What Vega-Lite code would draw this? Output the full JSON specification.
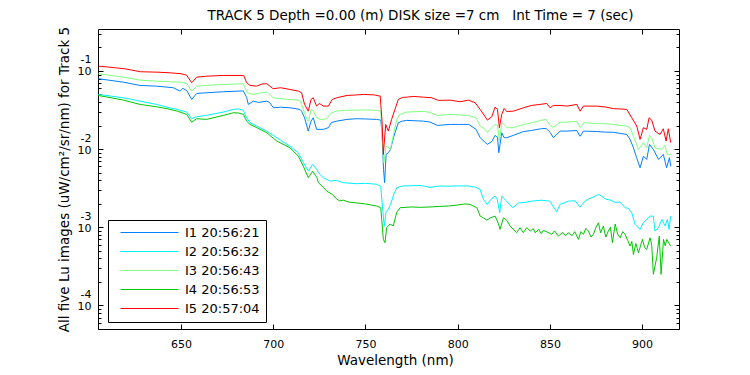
{
"$schema": "https://vega.github.io/schema/vega-lite/v6.json",
"width": 581, "height": 300,
"autosize": {"type": "none"},
"padding": {"left": 98, "top": 29, "right": 71, "bottom": 46},
"background": "white",
"title": {"text": "TRACK 5 Depth =0.00 (m) DISK size =7 cm \u00a0 Int Time = 7 (sec)", "font": "DejaVu Sans", "fontSize": 13.5, "fontWeight": "normal", "color": "black", "anchor": "middle", "frame": "group", "dx": 32, "baseline": "alphabetic", "offset": -7},
"config": {
  "view": {"stroke": "black", "strokeWidth": 1},
  "axis": {"domain": false, "grid": false, "tickColor": "black", "tickWidth": 1, "labelColor": "black", "titleColor": "black", "labelFont": "DejaVu Sans", "titleFont": "DejaVu Sans", "titleFontWeight": "normal", "labelFlush": false, "labelOverlap": false, "labelBound": false}
},
"datasets": {"spec": [
{"image":"I1 20:56:21","nm":605.2,"lu":0.0795},{"image":"I1 20:56:21","nm":618.7,"lu":0.0719},{"image":"I1 20:56:21","nm":627.8,"lu":0.0652},{"image":"I1 20:56:21","nm":636.8,"lu":0.0639},{"image":"I1 20:56:21","nm":645.8,"lu":0.061},{"image":"I1 20:56:21","nm":649.5,"lu":0.0552},{"image":"I1 20:56:21","nm":651,"lu":0.0598},{"image":"I1 20:56:21","nm":653.1,"lu":0.0563},{"image":"I1 20:56:21","nm":655.8,"lu":0.0432},{"image":"I1 20:56:21","nm":658.5,"lu":0.0516},{"image":"I1 20:56:21","nm":663.9,"lu":0.0526},{"image":"I1 20:56:21","nm":672.9,"lu":0.0542},{"image":"I1 20:56:21","nm":683.8,"lu":0.0555},{"image":"I1 20:56:21","nm":685.6,"lu":0.0458},{"image":"I1 20:56:21","nm":686.5,"lu":0.0373},{"image":"I1 20:56:21","nm":689.2,"lu":0.0411},{"image":"I1 20:56:21","nm":692,"lu":0.0395},{"image":"I1 20:56:21","nm":696.5,"lu":0.0411},{"image":"I1 20:56:21","nm":698,"lu":0.0395},{"image":"I1 20:56:21","nm":700.1,"lu":0.0338},{"image":"I1 20:56:21","nm":704,"lu":0.0344},{"image":"I1 20:56:21","nm":709.1,"lu":0.0338},{"image":"I1 20:56:21","nm":714.5,"lu":0.0322},{"image":"I1 20:56:21","nm":715.4,"lu":0.0306},{"image":"I1 20:56:21","nm":717,"lu":0.0252},{"image":"I1 20:56:21","nm":719,"lu":0.017},{"image":"I1 20:56:21","nm":720.5,"lu":0.0228},{"image":"I1 20:56:21","nm":721.7,"lu":0.0252},{"image":"I1 20:56:21","nm":723.5,"lu":0.0179},{"image":"I1 20:56:21","nm":725.4,"lu":0.0179},{"image":"I1 20:56:21","nm":727.2,"lu":0.0179},{"image":"I1 20:56:21","nm":729.9,"lu":0.0188},{"image":"I1 20:56:21","nm":731.5,"lu":0.0218},{"image":"I1 20:56:21","nm":734.4,"lu":0.0228},{"image":"I1 20:56:21","nm":740,"lu":0.024},{"image":"I1 20:56:21","nm":745.3,"lu":0.0245},{"image":"I1 20:56:21","nm":750,"lu":0.0243},{"image":"I1 20:56:21","nm":756.1,"lu":0.024},{"image":"I1 20:56:21","nm":758.3,"lu":0.0235},{"image":"I1 20:56:21","nm":759,"lu":0.0162},{"image":"I1 20:56:21","nm":759.8,"lu":0.0055},{"image":"I1 20:56:21","nm":760.4,"lu":0.00372},{"image":"I1 20:56:21","nm":761.2,"lu":0.00855},{"image":"I1 20:56:21","nm":762.4,"lu":0.00899},{"image":"I1 20:56:21","nm":763.6,"lu":0.0099},{"image":"I1 20:56:21","nm":765.2,"lu":0.014},{"image":"I1 20:56:21","nm":767.8,"lu":0.0217},{"image":"I1 20:56:21","nm":770,"lu":0.0228},{"image":"I1 20:56:21","nm":772.4,"lu":0.0233},{"image":"I1 20:56:21","nm":781.4,"lu":0.0228},{"image":"I1 20:56:21","nm":785,"lu":0.0222},{"image":"I1 20:56:21","nm":789,"lu":0.0201},{"image":"I1 20:56:21","nm":796,"lu":0.0207},{"image":"I1 20:56:21","nm":801,"lu":0.0207},{"image":"I1 20:56:21","nm":806,"lu":0.0207},{"image":"I1 20:56:21","nm":810,"lu":0.0179},{"image":"I1 20:56:21","nm":812.2,"lu":0.014},{"image":"I1 20:56:21","nm":814.9,"lu":0.0122},{"image":"I1 20:56:21","nm":816.1,"lu":0.0115},{"image":"I1 20:56:21","nm":818.5,"lu":0.0125},{"image":"I1 20:56:21","nm":820.3,"lu":0.015},{"image":"I1 20:56:21","nm":821.6,"lu":0.0142},{"image":"I1 20:56:21","nm":822.3,"lu":0.009},{"image":"I1 20:56:21","nm":823.9,"lu":0.0162},{"image":"I1 20:56:21","nm":825.2,"lu":0.014},{"image":"I1 20:56:21","nm":826.6,"lu":0.014},{"image":"I1 20:56:21","nm":830.2,"lu":0.015},{"image":"I1 20:56:21","nm":835.7,"lu":0.0168},{"image":"I1 20:56:21","nm":840,"lu":0.0173},{"image":"I1 20:56:21","nm":845,"lu":0.0182},{"image":"I1 20:56:21","nm":848,"lu":0.0184},{"image":"I1 20:56:21","nm":850.1,"lu":0.0164},{"image":"I1 20:56:21","nm":851.9,"lu":0.014},{"image":"I1 20:56:21","nm":855.5,"lu":0.017},{"image":"I1 20:56:21","nm":859.2,"lu":0.017},{"image":"I1 20:56:21","nm":864.6,"lu":0.0173},{"image":"I1 20:56:21","nm":866.4,"lu":0.0146},{"image":"I1 20:56:21","nm":868.2,"lu":0.017},{"image":"I1 20:56:21","nm":875.4,"lu":0.0168},{"image":"I1 20:56:21","nm":880,"lu":0.0165},{"image":"I1 20:56:21","nm":884.5,"lu":0.0164},{"image":"I1 20:56:21","nm":888,"lu":0.0159},{"image":"I1 20:56:21","nm":891.7,"lu":0.0154},{"image":"I1 20:56:21","nm":893.5,"lu":0.0133},{"image":"I1 20:56:21","nm":895.3,"lu":0.0104},{"image":"I1 20:56:21","nm":897,"lu":0.00783},{"image":"I1 20:56:21","nm":898.9,"lu":0.00578},{"image":"I1 20:56:21","nm":900.7,"lu":0.00814},{"image":"I1 20:56:21","nm":902.5,"lu":0.00738},{"image":"I1 20:56:21","nm":904,"lu":0.0115},{"image":"I1 20:56:21","nm":906.1,"lu":0.0099},{"image":"I1 20:56:21","nm":908.9,"lu":0.00738},{"image":"I1 20:56:21","nm":911.5,"lu":0.00855},{"image":"I1 20:56:21","nm":913.3,"lu":0.00578},{"image":"I1 20:56:21","nm":914.8,"lu":0.00776},{"image":"I1 20:56:21","nm":915.5,"lu":0.00602},
{"image":"I2 20:56:32","nm":605.2,"lu":0.0501},{"image":"I2 20:56:32","nm":618.7,"lu":0.0454},{"image":"I2 20:56:32","nm":627.8,"lu":0.0411},{"image":"I2 20:56:32","nm":636.8,"lu":0.0373},{"image":"I2 20:56:32","nm":643,"lu":0.0341},{"image":"I2 20:56:32","nm":648,"lu":0.0322},{"image":"I2 20:56:32","nm":653.1,"lu":0.0298},{"image":"I2 20:56:32","nm":655.8,"lu":0.0245},{"image":"I2 20:56:32","nm":658.5,"lu":0.026},{"image":"I2 20:56:32","nm":663.9,"lu":0.027},{"image":"I2 20:56:32","nm":672.9,"lu":0.0298},{"image":"I2 20:56:32","nm":678.4,"lu":0.0322},{"image":"I2 20:56:32","nm":681,"lu":0.0327},{"image":"I2 20:56:32","nm":683.8,"lu":0.0313},{"image":"I2 20:56:32","nm":685.6,"lu":0.0252},{"image":"I2 20:56:32","nm":687.4,"lu":0.0218},{"image":"I2 20:56:32","nm":691.1,"lu":0.0197},{"image":"I2 20:56:32","nm":696.5,"lu":0.017},{"image":"I2 20:56:32","nm":701.9,"lu":0.014},{"image":"I2 20:56:32","nm":709.1,"lu":0.0109},{"image":"I2 20:56:32","nm":713.6,"lu":0.00899},{"image":"I2 20:56:32","nm":716.3,"lu":0.00676},{"image":"I2 20:56:32","nm":719,"lu":0.00523},{"image":"I2 20:56:32","nm":721.4,"lu":0.00637},{"image":"I2 20:56:32","nm":723.6,"lu":0.0055},{"image":"I2 20:56:32","nm":724.5,"lu":0.00499},{"image":"I2 20:56:32","nm":727.2,"lu":0.00431},{"image":"I2 20:56:32","nm":730.8,"lu":0.0039},{"image":"I2 20:56:32","nm":734.4,"lu":0.00398},{"image":"I2 20:56:32","nm":738,"lu":0.00372},{"image":"I2 20:56:32","nm":745.3,"lu":0.00361},{"image":"I2 20:56:32","nm":750,"lu":0.00365},{"image":"I2 20:56:32","nm":756.1,"lu":0.00355},{"image":"I2 20:56:32","nm":758.3,"lu":0.00335},{"image":"I2 20:56:32","nm":759.5,"lu":0.00155},{"image":"I2 20:56:32","nm":760.2,"lu":0.00103},{"image":"I2 20:56:32","nm":761.2,"lu":0.0016},{"image":"I2 20:56:32","nm":762.4,"lu":0.00168},{"image":"I2 20:56:32","nm":763.6,"lu":0.00196},{"image":"I2 20:56:32","nm":765.4,"lu":0.00264},{"image":"I2 20:56:32","nm":767,"lu":0.00321},{"image":"I2 20:56:32","nm":770,"lu":0.00337},{"image":"I2 20:56:32","nm":780,"lu":0.00343},{"image":"I2 20:56:32","nm":785,"lu":0.00324},{"image":"I2 20:56:32","nm":790,"lu":0.00337},{"image":"I2 20:56:32","nm":795,"lu":0.00335},{"image":"I2 20:56:32","nm":800,"lu":0.00339},{"image":"I2 20:56:32","nm":806,"lu":0.00337},{"image":"I2 20:56:32","nm":810,"lu":0.00324},{"image":"I2 20:56:32","nm":812.2,"lu":0.00305},{"image":"I2 20:56:32","nm":814,"lu":0.00227},{"image":"I2 20:56:32","nm":816,"lu":0.00196},{"image":"I2 20:56:32","nm":818,"lu":0.00227},{"image":"I2 20:56:32","nm":820.3,"lu":0.00251},{"image":"I2 20:56:32","nm":821.5,"lu":0.00227},{"image":"I2 20:56:32","nm":822.8,"lu":0.00153},{"image":"I2 20:56:32","nm":823.9,"lu":0.00251},{"image":"I2 20:56:32","nm":826,"lu":0.00221},{"image":"I2 20:56:32","nm":830,"lu":0.00178},{"image":"I2 20:56:32","nm":833,"lu":0.00205},{"image":"I2 20:56:32","nm":836.5,"lu":0.00208},{"image":"I2 20:56:32","nm":840,"lu":0.00216},{"image":"I2 20:56:32","nm":845.6,"lu":0.00222},{"image":"I2 20:56:32","nm":850,"lu":0.00216},{"image":"I2 20:56:32","nm":853.7,"lu":0.00158},{"image":"I2 20:56:32","nm":855.5,"lu":0.00196},{"image":"I2 20:56:32","nm":860,"lu":0.00216},{"image":"I2 20:56:32","nm":863.7,"lu":0.00218},{"image":"I2 20:56:32","nm":866.4,"lu":0.00181},{"image":"I2 20:56:32","nm":869,"lu":0.00216},{"image":"I2 20:56:32","nm":870.9,"lu":0.0023},{"image":"I2 20:56:32","nm":874,"lu":0.00246},{"image":"I2 20:56:32","nm":876.3,"lu":0.00264},{"image":"I2 20:56:32","nm":878.1,"lu":0.00251},{"image":"I2 20:56:32","nm":880,"lu":0.0023},{"image":"I2 20:56:32","nm":883,"lu":0.00222},{"image":"I2 20:56:32","nm":885.4,"lu":0.00208},{"image":"I2 20:56:32","nm":888,"lu":0.0021},{"image":"I2 20:56:32","nm":890.8,"lu":0.00178},{"image":"I2 20:56:32","nm":892.5,"lu":0.00175},{"image":"I2 20:56:32","nm":894.4,"lu":0.00153},{"image":"I2 20:56:32","nm":896.2,"lu":0.00109},{"image":"I2 20:56:32","nm":898.9,"lu":0.00094},{"image":"I2 20:56:32","nm":900.7,"lu":0.00114},{"image":"I2 20:56:32","nm":904.3,"lu":0.00139},{"image":"I2 20:56:32","nm":906.1,"lu":0.00139},{"image":"I2 20:56:32","nm":907,"lu":0.000894},{"image":"I2 20:56:32","nm":908.9,"lu":0.000988},{"image":"I2 20:56:32","nm":910.7,"lu":0.00126},{"image":"I2 20:56:32","nm":912.5,"lu":0.00104},{"image":"I2 20:56:32","nm":913.7,"lu":0.00126},{"image":"I2 20:56:32","nm":914.6,"lu":0.00094},{"image":"I2 20:56:32","nm":915.5,"lu":0.00139},
{"image":"I3 20:56:43","nm":605.2,"lu":0.0921},{"image":"I3 20:56:43","nm":618.7,"lu":0.0833},{"image":"I3 20:56:43","nm":627.8,"lu":0.0763},{"image":"I3 20:56:43","nm":636.8,"lu":0.0741},{"image":"I3 20:56:43","nm":645.8,"lu":0.0723},{"image":"I3 20:56:43","nm":649.5,"lu":0.0719},{"image":"I3 20:56:43","nm":653.1,"lu":0.0692},{"image":"I3 20:56:43","nm":655.8,"lu":0.0552},{"image":"I3 20:56:43","nm":658.5,"lu":0.0639},{"image":"I3 20:56:43","nm":663.9,"lu":0.0653},{"image":"I3 20:56:43","nm":672.9,"lu":0.0672},{"image":"I3 20:56:43","nm":683.8,"lu":0.0686},{"image":"I3 20:56:43","nm":686,"lu":0.0526},{"image":"I3 20:56:43","nm":689,"lu":0.0501},{"image":"I3 20:56:43","nm":692,"lu":0.0516},{"image":"I3 20:56:43","nm":696.5,"lu":0.0536},{"image":"I3 20:56:43","nm":700.1,"lu":0.0454},{"image":"I3 20:56:43","nm":704,"lu":0.0441},{"image":"I3 20:56:43","nm":709.1,"lu":0.0432},{"image":"I3 20:56:43","nm":714.5,"lu":0.042},{"image":"I3 20:56:43","nm":715.4,"lu":0.0373},{"image":"I3 20:56:43","nm":717,"lu":0.0292},{"image":"I3 20:56:43","nm":718.3,"lu":0.024},{"image":"I3 20:56:43","nm":719.2,"lu":0.0226},{"image":"I3 20:56:43","nm":720.5,"lu":0.0322},{"image":"I3 20:56:43","nm":722,"lu":0.0304},{"image":"I3 20:56:43","nm":723.5,"lu":0.0252},{"image":"I3 20:56:43","nm":725.4,"lu":0.024},{"image":"I3 20:56:43","nm":727.2,"lu":0.024},{"image":"I3 20:56:43","nm":729,"lu":0.0245},{"image":"I3 20:56:43","nm":731.5,"lu":0.0292},{"image":"I3 20:56:43","nm":734.4,"lu":0.0306},{"image":"I3 20:56:43","nm":738,"lu":0.0313},{"image":"I3 20:56:43","nm":745.3,"lu":0.0315},{"image":"I3 20:56:43","nm":750,"lu":0.0317},{"image":"I3 20:56:43","nm":756.1,"lu":0.0313},{"image":"I3 20:56:43","nm":758.3,"lu":0.0306},{"image":"I3 20:56:43","nm":759,"lu":0.0146},{"image":"I3 20:56:43","nm":760,"lu":0.0067},{"image":"I3 20:56:43","nm":761.2,"lu":0.0109},{"image":"I3 20:56:43","nm":762.4,"lu":0.0105},{"image":"I3 20:56:43","nm":763.6,"lu":0.0099},{"image":"I3 20:56:43","nm":765.4,"lu":0.0162},{"image":"I3 20:56:43","nm":767,"lu":0.024},{"image":"I3 20:56:43","nm":768.5,"lu":0.0278},{"image":"I3 20:56:43","nm":772.4,"lu":0.0298},{"image":"I3 20:56:43","nm":781.4,"lu":0.0304},{"image":"I3 20:56:43","nm":785,"lu":0.0295},{"image":"I3 20:56:43","nm":789,"lu":0.027},{"image":"I3 20:56:43","nm":796,"lu":0.0278},{"image":"I3 20:56:43","nm":801,"lu":0.0274},{"image":"I3 20:56:43","nm":806,"lu":0.027},{"image":"I3 20:56:43","nm":810,"lu":0.0252},{"image":"I3 20:56:43","nm":812.2,"lu":0.0197},{"image":"I3 20:56:43","nm":814.9,"lu":0.0179},{"image":"I3 20:56:43","nm":816.1,"lu":0.0162},{"image":"I3 20:56:43","nm":818.5,"lu":0.0189},{"image":"I3 20:56:43","nm":820.3,"lu":0.0207},{"image":"I3 20:56:43","nm":821.6,"lu":0.0201},{"image":"I3 20:56:43","nm":822.6,"lu":0.0127},{"image":"I3 20:56:43","nm":823.9,"lu":0.0217},{"image":"I3 20:56:43","nm":825.2,"lu":0.0207},{"image":"I3 20:56:43","nm":826.6,"lu":0.0188},{"image":"I3 20:56:43","nm":830.2,"lu":0.0188},{"image":"I3 20:56:43","nm":835.7,"lu":0.0207},{"image":"I3 20:56:43","nm":840,"lu":0.0216},{"image":"I3 20:56:43","nm":845,"lu":0.0233},{"image":"I3 20:56:43","nm":848,"lu":0.024},{"image":"I3 20:56:43","nm":850.1,"lu":0.0201},{"image":"I3 20:56:43","nm":851.9,"lu":0.0189},{"image":"I3 20:56:43","nm":855.5,"lu":0.0221},{"image":"I3 20:56:43","nm":859.2,"lu":0.0221},{"image":"I3 20:56:43","nm":864.6,"lu":0.0226},{"image":"I3 20:56:43","nm":866.4,"lu":0.0189},{"image":"I3 20:56:43","nm":868.2,"lu":0.0217},{"image":"I3 20:56:43","nm":875.4,"lu":0.0213},{"image":"I3 20:56:43","nm":880,"lu":0.0211},{"image":"I3 20:56:43","nm":884.5,"lu":0.0207},{"image":"I3 20:56:43","nm":888,"lu":0.0201},{"image":"I3 20:56:43","nm":891.7,"lu":0.0197},{"image":"I3 20:56:43","nm":893.5,"lu":0.0187},{"image":"I3 20:56:43","nm":895.3,"lu":0.0146},{"image":"I3 20:56:43","nm":898,"lu":0.0099},{"image":"I3 20:56:43","nm":900.7,"lu":0.0121},{"image":"I3 20:56:43","nm":902.5,"lu":0.0104},{"image":"I3 20:56:43","nm":904,"lu":0.015},{"image":"I3 20:56:43","nm":905.2,"lu":0.014},{"image":"I3 20:56:43","nm":907,"lu":0.0104},{"image":"I3 20:56:43","nm":910.6,"lu":0.0099},{"image":"I3 20:56:43","nm":912.4,"lu":0.0112},{"image":"I3 20:56:43","nm":913.6,"lu":0.00855},{"image":"I3 20:56:43","nm":915.5,"lu":0.00855},
{"image":"I4 20:56:53","nm":605.2,"lu":0.0486},{"image":"I4 20:56:53","nm":618.7,"lu":0.0424},{"image":"I4 20:56:53","nm":627.8,"lu":0.0373},{"image":"I4 20:56:53","nm":636.8,"lu":0.0348},{"image":"I4 20:56:53","nm":643,"lu":0.0327},{"image":"I4 20:56:53","nm":648,"lu":0.0306},{"image":"I4 20:56:53","nm":653.1,"lu":0.0278},{"image":"I4 20:56:53","nm":655.8,"lu":0.0221},{"image":"I4 20:56:53","nm":658.5,"lu":0.0245},{"image":"I4 20:56:53","nm":663.9,"lu":0.024},{"image":"I4 20:56:53","nm":672.9,"lu":0.027},{"image":"I4 20:56:53","nm":678.4,"lu":0.0292},{"image":"I4 20:56:53","nm":681,"lu":0.029},{"image":"I4 20:56:53","nm":683.8,"lu":0.0278},{"image":"I4 20:56:53","nm":685.6,"lu":0.0228},{"image":"I4 20:56:53","nm":687.4,"lu":0.0207},{"image":"I4 20:56:53","nm":691.1,"lu":0.0188},{"image":"I4 20:56:53","nm":696.5,"lu":0.0162},{"image":"I4 20:56:53","nm":701.9,"lu":0.0127},{"image":"I4 20:56:53","nm":709.1,"lu":0.0104},{"image":"I4 20:56:53","nm":713.6,"lu":0.00814},{"image":"I4 20:56:53","nm":716.3,"lu":0.00606},{"image":"I4 20:56:53","nm":719,"lu":0.00431},{"image":"I4 20:56:53","nm":721.4,"lu":0.00523},{"image":"I4 20:56:53","nm":723.6,"lu":0.00436},{"image":"I4 20:56:53","nm":724.5,"lu":0.00372},{"image":"I4 20:56:53","nm":727.2,"lu":0.00324},{"image":"I4 20:56:53","nm":729,"lu":0.0029},{"image":"I4 20:56:53","nm":732,"lu":0.00264},{"image":"I4 20:56:53","nm":734.4,"lu":0.0023},{"image":"I4 20:56:53","nm":736,"lu":0.00218},{"image":"I4 20:56:53","nm":738,"lu":0.00222},{"image":"I4 20:56:53","nm":741,"lu":0.0021},{"image":"I4 20:56:53","nm":745.3,"lu":0.00205},{"image":"I4 20:56:53","nm":750,"lu":0.00199},{"image":"I4 20:56:53","nm":756.1,"lu":0.00187},{"image":"I4 20:56:53","nm":758.3,"lu":0.00178},{"image":"I4 20:56:53","nm":759.7,"lu":0.0007},{"image":"I4 20:56:53","nm":760.6,"lu":0.000635},{"image":"I4 20:56:53","nm":761.5,"lu":0.000988},{"image":"I4 20:56:53","nm":763.3,"lu":0.0011},{"image":"I4 20:56:53","nm":765.1,"lu":0.00104},{"image":"I4 20:56:53","nm":767,"lu":0.00156},{"image":"I4 20:56:53","nm":768.8,"lu":0.00178},{"image":"I4 20:56:53","nm":775,"lu":0.00182},{"image":"I4 20:56:53","nm":780,"lu":0.0018},{"image":"I4 20:56:53","nm":785,"lu":0.00182},{"image":"I4 20:56:53","nm":790,"lu":0.00185},{"image":"I4 20:56:53","nm":795,"lu":0.00187},{"image":"I4 20:56:53","nm":800,"lu":0.00193},{"image":"I4 20:56:53","nm":804,"lu":0.00199},{"image":"I4 20:56:53","nm":806.7,"lu":0.00196},{"image":"I4 20:56:53","nm":810.4,"lu":0.00178},{"image":"I4 20:56:53","nm":812.2,"lu":0.00139},{"image":"I4 20:56:53","nm":814,"lu":0.00132},{"image":"I4 20:56:53","nm":815.8,"lu":0.00123},{"image":"I4 20:56:53","nm":817.6,"lu":0.00132},{"image":"I4 20:56:53","nm":820.3,"lu":0.00139},{"image":"I4 20:56:53","nm":822.1,"lu":0.00112},{"image":"I4 20:56:53","nm":823,"lu":0.00094},{"image":"I4 20:56:53","nm":824.8,"lu":0.00132},{"image":"I4 20:56:53","nm":826.6,"lu":0.00123},{"image":"I4 20:56:53","nm":828.4,"lu":0.00104},{"image":"I4 20:56:53","nm":830.2,"lu":0.00094},{"image":"I4 20:56:53","nm":832,"lu":0.000853},{"image":"I4 20:56:53","nm":833.8,"lu":0.000988},{"image":"I4 20:56:53","nm":835.6,"lu":0.000853},{"image":"I4 20:56:53","nm":837.5,"lu":0.000988},{"image":"I4 20:56:53","nm":839.3,"lu":0.000894},{"image":"I4 20:56:53","nm":841,"lu":0.00096},{"image":"I4 20:56:53","nm":842,"lu":0.000853},{"image":"I4 20:56:53","nm":844,"lu":0.00094},{"image":"I4 20:56:53","nm":845.3,"lu":0.00083},{"image":"I4 20:56:53","nm":846.5,"lu":0.000913},{"image":"I4 20:56:53","nm":849,"lu":0.00086},{"image":"I4 20:56:53","nm":851,"lu":0.000811},{"image":"I4 20:56:53","nm":852.5,"lu":0.0009},{"image":"I4 20:56:53","nm":854.6,"lu":0.000772},{"image":"I4 20:56:53","nm":857,"lu":0.00086},{"image":"I4 20:56:53","nm":858.5,"lu":0.00078},{"image":"I4 20:56:53","nm":860,"lu":0.000853},{"image":"I4 20:56:53","nm":862,"lu":0.00078},{"image":"I4 20:56:53","nm":863.5,"lu":0.00088},{"image":"I4 20:56:53","nm":865.5,"lu":0.0007},{"image":"I4 20:56:53","nm":866.8,"lu":0.00088},{"image":"I4 20:56:53","nm":868.2,"lu":0.000813},{"image":"I4 20:56:53","nm":869.5,"lu":0.00097},{"image":"I4 20:56:53","nm":870.9,"lu":0.000894},{"image":"I4 20:56:53","nm":872.3,"lu":0.00075},{"image":"I4 20:56:53","nm":873.6,"lu":0.000811},{"image":"I4 20:56:53","nm":875,"lu":0.001},{"image":"I4 20:56:53","nm":876.3,"lu":0.00114},{"image":"I4 20:56:53","nm":877.5,"lu":0.00085},{"image":"I4 20:56:53","nm":879,"lu":0.00104},{"image":"I4 20:56:53","nm":880.3,"lu":0.00075},{"image":"I4 20:56:53","nm":881.7,"lu":0.000894},{"image":"I4 20:56:53","nm":882.8,"lu":0.001},{"image":"I4 20:56:53","nm":883.9,"lu":0.000635},{"image":"I4 20:56:53","nm":885.4,"lu":0.0011},{"image":"I4 20:56:53","nm":886.7,"lu":0.00082},{"image":"I4 20:56:53","nm":888.1,"lu":0.000734},{"image":"I4 20:56:53","nm":889.5,"lu":0.00088},{"image":"I4 20:56:53","nm":890.8,"lu":0.000811},{"image":"I4 20:56:53","nm":892.2,"lu":0.00068},{"image":"I4 20:56:53","nm":893.5,"lu":0.000575},{"image":"I4 20:56:53","nm":894.4,"lu":0.00066},{"image":"I4 20:56:53","nm":895.3,"lu":0.00045},{"image":"I4 20:56:53","nm":896.6,"lu":0.00062},{"image":"I4 20:56:53","nm":898,"lu":0.000473},{"image":"I4 20:56:53","nm":900.2,"lu":0.0007},{"image":"I4 20:56:53","nm":901.4,"lu":0.00055},{"image":"I4 20:56:53","nm":902.5,"lu":0.000522},{"image":"I4 20:56:53","nm":904.3,"lu":0.000734},{"image":"I4 20:56:53","nm":905.2,"lu":0.0006},{"image":"I4 20:56:53","nm":906.1,"lu":0.00025},{"image":"I4 20:56:53","nm":907.9,"lu":0.000409},{"image":"I4 20:56:53","nm":909.3,"lu":0.000772},{"image":"I4 20:56:53","nm":910.3,"lu":0.00025},{"image":"I4 20:56:53","nm":911.6,"lu":0.0007},{"image":"I4 20:56:53","nm":912.5,"lu":0.00058},{"image":"I4 20:56:53","nm":913.4,"lu":0.0007},{"image":"I4 20:56:53","nm":914.3,"lu":0.00064},{"image":"I4 20:56:53","nm":915.5,"lu":0.000575},
{"image":"I5 20:57:04","nm":605.2,"lu":0.1152},{"image":"I5 20:57:04","nm":610,"lu":0.1125},{"image":"I5 20:57:04","nm":615,"lu":0.1093},{"image":"I5 20:57:04","nm":620,"lu":0.1061},{"image":"I5 20:57:04","nm":628,"lu":0.0977},{"image":"I5 20:57:04","nm":637,"lu":0.0965},{"image":"I5 20:57:04","nm":645,"lu":0.0943},{"image":"I5 20:57:04","nm":650,"lu":0.0921},{"image":"I5 20:57:04","nm":653,"lu":0.0884},{"image":"I5 20:57:04","nm":655.8,"lu":0.0707},{"image":"I5 20:57:04","nm":658.5,"lu":0.0833},{"image":"I5 20:57:04","nm":664,"lu":0.0858},{"image":"I5 20:57:04","nm":673,"lu":0.0876},{"image":"I5 20:57:04","nm":684,"lu":0.0876},{"image":"I5 20:57:04","nm":685.6,"lu":0.0707},{"image":"I5 20:57:04","nm":687.4,"lu":0.0653},{"image":"I5 20:57:04","nm":691,"lu":0.0639},{"image":"I5 20:57:04","nm":694,"lu":0.0682},{"image":"I5 20:57:04","nm":696.5,"lu":0.0686},{"image":"I5 20:57:04","nm":700,"lu":0.0592},{"image":"I5 20:57:04","nm":704,"lu":0.061},{"image":"I5 20:57:04","nm":709,"lu":0.058},{"image":"I5 20:57:04","nm":713.6,"lu":0.0552},{"image":"I5 20:57:04","nm":715.4,"lu":0.0526},{"image":"I5 20:57:04","nm":717,"lu":0.0373},{"image":"I5 20:57:04","nm":719,"lu":0.0306},{"image":"I5 20:57:04","nm":720.5,"lu":0.0432},{"image":"I5 20:57:04","nm":721.7,"lu":0.0454},{"image":"I5 20:57:04","nm":723.5,"lu":0.0355},{"image":"I5 20:57:04","nm":725,"lu":0.0384},{"image":"I5 20:57:04","nm":727.2,"lu":0.0355},{"image":"I5 20:57:04","nm":729.9,"lu":0.0355},{"image":"I5 20:57:04","nm":732,"lu":0.0432},{"image":"I5 20:57:04","nm":734.4,"lu":0.0454},{"image":"I5 20:57:04","nm":740,"lu":0.0486},{"image":"I5 20:57:04","nm":745,"lu":0.0493},{"image":"I5 20:57:04","nm":749,"lu":0.0501},{"image":"I5 20:57:04","nm":755,"lu":0.0493},{"image":"I5 20:57:04","nm":758,"lu":0.0476},{"image":"I5 20:57:04","nm":759,"lu":0.0228},{"image":"I5 20:57:04","nm":759.7,"lu":0.00856},{"image":"I5 20:57:04","nm":761,"lu":0.0207},{"image":"I5 20:57:04","nm":762.4,"lu":0.017},{"image":"I5 20:57:04","nm":764.2,"lu":0.024},{"image":"I5 20:57:04","nm":766,"lu":0.0322},{"image":"I5 20:57:04","nm":767.8,"lu":0.0432},{"image":"I5 20:57:04","nm":770,"lu":0.0458},{"image":"I5 20:57:04","nm":772.4,"lu":0.0462},{"image":"I5 20:57:04","nm":776,"lu":0.0472},{"image":"I5 20:57:04","nm":781.4,"lu":0.0462},{"image":"I5 20:57:04","nm":785.9,"lu":0.0454},{"image":"I5 20:57:04","nm":789.5,"lu":0.042},{"image":"I5 20:57:04","nm":795.9,"lu":0.0423},{"image":"I5 20:57:04","nm":801.3,"lu":0.0404},{"image":"I5 20:57:04","nm":805.8,"lu":0.0423},{"image":"I5 20:57:04","nm":809.5,"lu":0.0392},{"image":"I5 20:57:04","nm":812.2,"lu":0.0322},{"image":"I5 20:57:04","nm":814.9,"lu":0.026},{"image":"I5 20:57:04","nm":816.1,"lu":0.0235},{"image":"I5 20:57:04","nm":818.5,"lu":0.026},{"image":"I5 20:57:04","nm":820.3,"lu":0.0344},{"image":"I5 20:57:04","nm":821.6,"lu":0.0322},{"image":"I5 20:57:04","nm":822.6,"lu":0.0188},{"image":"I5 20:57:04","nm":823.9,"lu":0.0278},{"image":"I5 20:57:04","nm":825.2,"lu":0.0331},{"image":"I5 20:57:04","nm":826.6,"lu":0.0303},{"image":"I5 20:57:04","nm":830.2,"lu":0.0306},{"image":"I5 20:57:04","nm":835.7,"lu":0.0338},{"image":"I5 20:57:04","nm":840,"lu":0.0362},{"image":"I5 20:57:04","nm":844.7,"lu":0.0373},{"image":"I5 20:57:04","nm":848.3,"lu":0.0384},{"image":"I5 20:57:04","nm":850.1,"lu":0.0338},{"image":"I5 20:57:04","nm":851.9,"lu":0.0362},{"image":"I5 20:57:04","nm":855.5,"lu":0.0362},{"image":"I5 20:57:04","nm":859.2,"lu":0.0355},{"image":"I5 20:57:04","nm":864.6,"lu":0.0373},{"image":"I5 20:57:04","nm":866.4,"lu":0.0306},{"image":"I5 20:57:04","nm":868.2,"lu":0.0355},{"image":"I5 20:57:04","nm":875.4,"lu":0.0355},{"image":"I5 20:57:04","nm":880,"lu":0.0346},{"image":"I5 20:57:04","nm":884.5,"lu":0.0329},{"image":"I5 20:57:04","nm":888,"lu":0.0327},{"image":"I5 20:57:04","nm":891.7,"lu":0.0322},{"image":"I5 20:57:04","nm":894.4,"lu":0.0252},{"image":"I5 20:57:04","nm":897.1,"lu":0.0197},{"image":"I5 20:57:04","nm":898.9,"lu":0.0133},{"image":"I5 20:57:04","nm":900.7,"lu":0.0188},{"image":"I5 20:57:04","nm":902.5,"lu":0.0179},{"image":"I5 20:57:04","nm":903.8,"lu":0.0252},{"image":"I5 20:57:04","nm":905.2,"lu":0.0235},{"image":"I5 20:57:04","nm":907,"lu":0.017},{"image":"I5 20:57:04","nm":909.7,"lu":0.0154},{"image":"I5 20:57:04","nm":911.5,"lu":0.0182},{"image":"I5 20:57:04","nm":913,"lu":0.0127},{"image":"I5 20:57:04","nm":914.2,"lu":0.0182},{"image":"I5 20:57:04","nm":915.5,"lu":0.0121}
]},
"data": {"name": "spec"},
"layer": [
  {
    "mark": {"type": "line", "strokeWidth": 1},
    "encoding": {
      "x": {"field": "nm", "type": "quantitative", "scale": {"domain": [605, 920], "nice": false, "zero": false},
            "axis": {"orient": "bottom", "values": [650, 700, 750, 800, 850, 900], "tickSize": -5, "labelFontSize": 11, "labelBaseline": "alphabetic", "labelPadding": 23, "title": "Wavelength (nm)", "titleFontSize": 13.5, "titleBaseline": "alphabetic", "titleY": 35, "titleX": 297}},
      "y": {"field": "lu", "type": "quantitative", "scale": {"type": "log", "domain": [0.00005, 0.344], "nice": false},
            "axis": {"orient": "left", "values": [0.0001, 0.001, 0.01, 0.1], "labelExpr": "['' + round(log(datum.value)/LN10), '10\u00a0\u00a0\u00a0']", "labelAlign": "right", "labelBaseline": "alphabetic", "labelOffset": -8, "labelLineHeight": 12, "tickSize": -5, "labelFontSize": 11, "labelPadding": 12, "title": "All five Lu images (uW/cm²/sr/nm) for Track 5", "titleFontSize": 13.5, "titleBaseline": "alphabetic", "titleX": -30}},
      "color": {"field": "image", "type": "nominal",
                "scale": {"domain": ["I1 20:56:21", "I2 20:56:32", "I3 20:56:43", "I4 20:56:53", "I5 20:57:04"], "range": ["#0080FF", "#00F0FF", "#80FF80", "#00C800", "#FF0000"]},
                "legend": {"orient": "none", "legendX": 10, "legendY": 191, "title": null, "symbolType": "M0,0H11.6", "symbolSize": 100, "symbolStrokeWidth": 1, "labelOffset": 58, "labelFont": "DejaVu Sans", "labelFontSize": 13, "labelColor": "black", "strokeColor": "black", "fillColor": "white", "padding": 6, "rowPadding": 5}}
    }
  },
  {
    "mark": {"type": "point", "opacity": 0},
    "encoding": {
      "x": {"field": "nm", "type": "quantitative", "axis": {"orient": "top", "values": [650, 700, 750, 800, 850, 900], "tickSize": -5, "labels": false, "title": null}},
      "y": {"field": "lu", "type": "quantitative", "axis": null}
    }
  },
  {
    "mark": {"type": "point", "opacity": 0},
    "encoding": {
      "x": {"field": "nm", "type": "quantitative", "axis": null},
      "y": {"field": "lu", "type": "quantitative", "axis": {"orient": "left", "values": [0.00005, 0.00006, 0.00007, 0.00008, 0.00009, 0.0002, 0.0003, 0.0004, 0.0005, 0.0006, 0.0007, 0.0008, 0.0009, 0.002, 0.003, 0.004, 0.005, 0.006, 0.007, 0.008, 0.009, 0.02, 0.03, 0.04, 0.05, 0.06, 0.07, 0.08, 0.09, 0.2, 0.3], "tickSize": -3, "labels": false, "title": null}}
    }
  },
  {
    "mark": {"type": "point", "opacity": 0},
    "encoding": {
      "x": {"field": "nm", "type": "quantitative", "axis": null},
      "y": {"field": "lu", "type": "quantitative", "axis": {"orient": "right", "values": [0.0001, 0.001, 0.01, 0.1], "tickSize": -5, "labels": false, "title": null}}
    }
  },
  {
    "mark": {"type": "point", "opacity": 0},
    "encoding": {
      "x": {"field": "nm", "type": "quantitative", "axis": null},
      "y": {"field": "lu", "type": "quantitative", "axis": {"orient": "right", "values": [0.00005, 0.00006, 0.00007, 0.00008, 0.00009, 0.0002, 0.0003, 0.0004, 0.0005, 0.0006, 0.0007, 0.0008, 0.0009, 0.002, 0.003, 0.004, 0.005, 0.006, 0.007, 0.008, 0.009, 0.02, 0.03, 0.04, 0.05, 0.06, 0.07, 0.08, 0.09, 0.2, 0.3], "tickSize": -3, "labels": false, "title": null}}
    }
  }
],
"resolve": {"axis": {"x": "independent", "y": "independent"}}
}
